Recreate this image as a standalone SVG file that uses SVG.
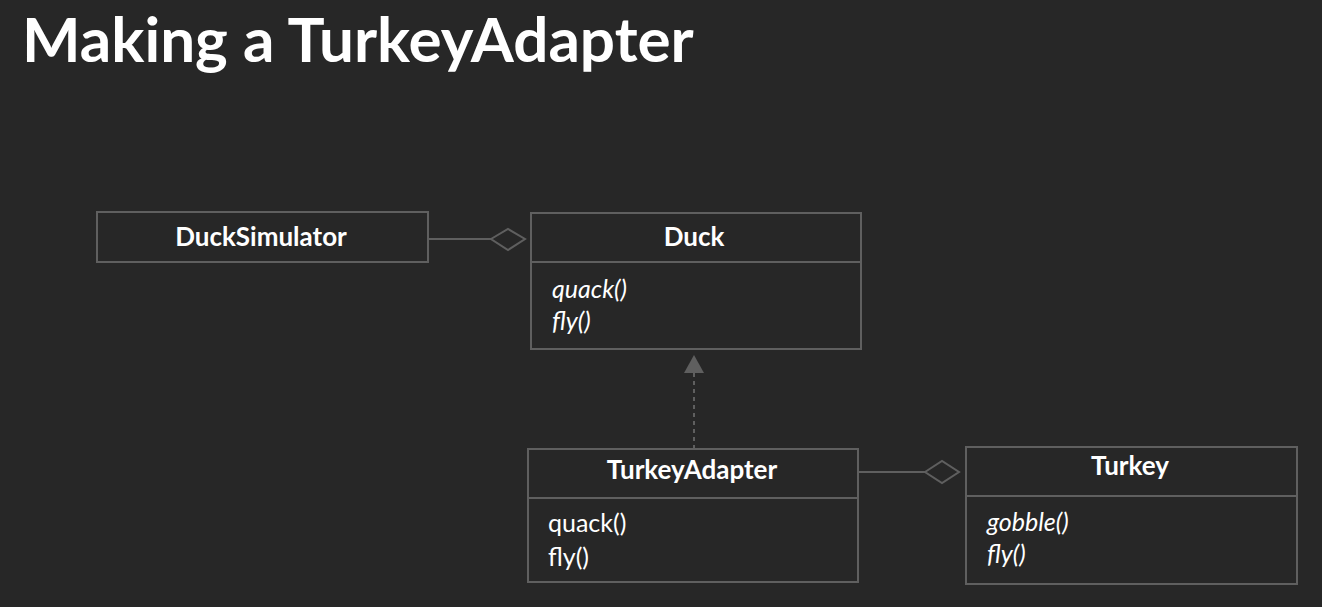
<svg xmlns="http://www.w3.org/2000/svg" width="1322" height="607" viewBox="0 0 1322 607">
<style>
.box{fill:none;stroke:#5f5f5f;stroke-width:2}
.ln{stroke:#5f5f5f;stroke-width:2;fill:none}
.nm{font-family:Lato,"Open Sans",sans-serif;font-weight:bold;font-size:26px;fill:#fff;text-anchor:middle}
.op{font-family:Lato,"Open Sans",sans-serif;font-size:25px;fill:#fff}
.it{font-style:italic}
.title{font-family:Lato,"Open Sans",sans-serif;font-weight:bold;font-size:62px;fill:#fff}
</style>
<rect width="1322" height="607" fill="#272727"/>
<text class="title" x="22" y="62">Making a TurkeyAdapter</text>
<g id="connectors">
<line class="ln" x1="428" y1="239" x2="491" y2="239"/>
<polygon class="ln" points="491,239 508,229 525,239 508,250"/>
<line class="ln" x1="694" y1="449" x2="694" y2="372" stroke-dasharray="4,4"/>
<polygon points="694,355 684,373 704,373" fill="#5f5f5f"/>
<line class="ln" x1="858" y1="472" x2="925" y2="472"/>
<polygon class="ln" points="925,472 942,461 959,472 942,483"/>
</g>
<g id="DuckSimulator">
<rect class="box" x="97" y="212" width="331" height="50"/>
<text class="nm" x="261" y="246">DuckSimulator</text>
</g>
<g id="Duck">
<rect class="box" x="531" y="213" width="330" height="136"/>
<line class="ln" x1="531" y1="262" x2="861" y2="262"/>
<text class="nm" x="694" y="246">Duck</text>
<text class="op it" x="552" y="298">quack()</text>
<text class="op it" x="552" y="330">fly()</text>
</g>
<g id="TurkeyAdapter">
<rect class="box" x="528" y="449" width="330" height="133"/>
<line class="ln" x1="528" y1="498" x2="858" y2="498"/>
<text class="nm" x="692" y="479">TurkeyAdapter</text>
<text class="op" x="548" y="532">quack()</text>
<text class="op" x="548" y="566">fly()</text>
</g>
<g id="Turkey">
<rect class="box" x="966" y="447" width="331" height="137"/>
<line class="ln" x1="966" y1="496" x2="1297" y2="496"/>
<text class="nm" x="1130" y="475">Turkey</text>
<text class="op it" x="987" y="531">gobble()</text>
<text class="op it" x="987" y="563">fly()</text>
</g>
</svg>
